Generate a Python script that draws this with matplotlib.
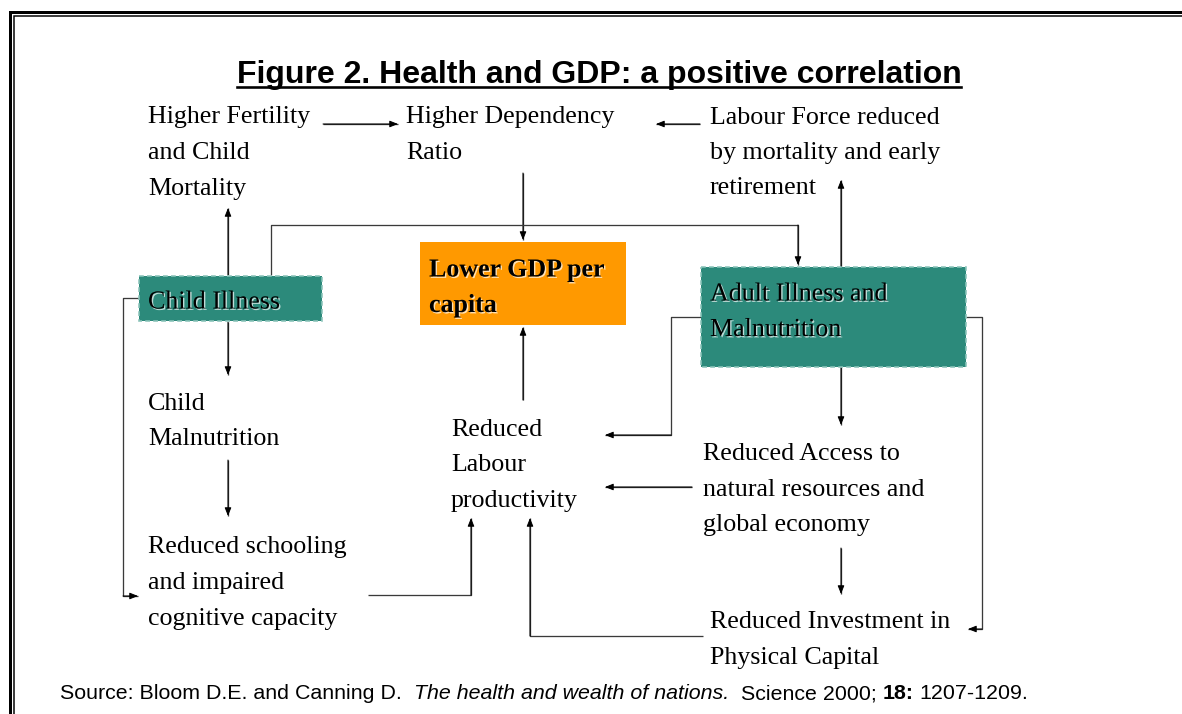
import matplotlib
matplotlib.use("Agg")
import matplotlib.pyplot as plt
import matplotlib.patheffects as pe
from matplotlib.patches import Rectangle

SERIF = "Liberation Serif"
SANS = "Liberation Sans"
FS = 18.7
LINE_H = 35.5

TITLE = "Figure 2. Health and GDP: a positive correlation"

# plain text nodes: (lines, left x, first line centre y)
nodes = [
    (["Higher Fertility", "and Child", "Mortality"], 148, 115),
    (["Higher Dependency", "Ratio"], 406, 115),
    (["Labour Force reduced", "by mortality and early", "retirement"], 710, 115),
    (["Child", "Malnutrition"], 148, 401),
    (["Reduced", "Labour", "productivity"], 451, 427),
    (["Reduced Access to", "natural resources and", "global economy"], 703, 452),
    (["Reduced schooling", "and impaired", "cognitive capacity"], 148, 545),
    (["Reduced Investment in", "Physical Capital"], 710, 620),
]

# boxed nodes: (lines, box x0, y0, x1, y1, face, bold)
boxes = [
    (["Child Illness"], 139, 276, 322, 321, "#2c8a7b", False),
    (["Lower GDP per", "capita"], 420, 242, 626, 325, "#ff9900", True),
    (["Adult Illness and", "Malnutrition"], 701, 267, 966, 367, "#2c8a7b", False),
]

# connectors: polyline, arrowhead at the last point
connectors = [
    [(323, 124), (398, 124)],
    [(700, 124), (656, 124)],
    [(523, 173), (523, 240)],
    [(228, 275), (228, 208)],
    [(271, 275), (271, 225), (798, 225), (798, 265)],
    [(841, 267), (841, 180)],
    [(228, 322), (228, 375)],
    [(139, 298), (123, 298), (123, 596), (138, 596)],
    [(228, 460), (228, 516)],
    [(368, 595), (471, 595), (471, 518)],
    [(523, 400), (523, 327)],
    [(701, 317), (671, 317), (671, 435), (605, 435)],
    [(841, 367), (841, 425)],
    [(692, 487), (605, 487)],
    [(841, 548), (841, 594)],
    [(966, 317), (982, 317), (982, 629), (968, 629)],
    [(703, 636), (530, 636), (530, 518)],
]

# source line pieces: (text, style, weight, gap after in em)
source = [
    ("Source: Bloom D.E. and Canning D.", "normal", "normal", 0.556),
    ("The health and wealth of nations.", "italic", "normal", 0.556),
    ("Science 2000;", "normal", "normal", 0.278),
    ("18:", "normal", "bold", 0.278),
    ("1207-1209.", "normal", "normal", 0),
]

fig = plt.figure(figsize=(11.82, 7.14), dpi=100)
ax = fig.add_axes([0, 0, 1, 1])
ax.set_xlim(0, 1182)
ax.set_ylim(714, 0)
ax.axis("off")
renderer = fig.canvas.get_renderer()
px = 0.72  # one pixel in points

# double border, clipped by the image on the right and bottom
ax.plot([10, 10, 1190], [722, 12, 12], color="black", lw=3 * px, solid_joinstyle="miter")
ax.plot([13.5, 13.5, 1190], [722, 15.5, 15.5], color="black", lw=1.5 * px, solid_joinstyle="miter")

# title with underline
t = ax.text(599, 83.5, TITLE, family=SANS, weight="bold", fontsize=23,
            ha="center", va="baseline")
bb = t.get_window_extent(renderer)
ax.plot([bb.x0, bb.x1], [86.5, 86.5], color="black", lw=2.6 * px)


def write_lines(lines, x, y, bold=False, shadow=False):
    for i, line in enumerate(lines):
        txt = ax.text(x, y + i * LINE_H + 8.5, line, family=SERIF, fontsize=FS,
                      weight="bold" if bold else "normal", ha="left", va="baseline",
                      color="black", zorder=5)
        if shadow:
            txt.set_path_effects([
                pe.withSimplePatchShadow(offset=(1, -1), shadow_rgbFace="white", alpha=0.7),
            ])


for lines, x, y in nodes:
    write_lines(lines, x, y)

# box text: first line centre measured from the box top
box_text_off = [24, 26, 25]
for (lines, x0, y0, x1, y1, face, bold), off in zip(boxes, box_text_off):
    dashed = face != "#ff9900"
    ax.add_patch(Rectangle((x0, y0), x1 - x0, y1 - y0, facecolor=face,
                           edgecolor="#8cc4ba" if dashed else "none",
                           lw=1.6 * px, ls=(0, (3, 2)) if dashed else "-", zorder=3))
    write_lines(lines, x0 + 9, y0 + off, bold=bold, shadow=True)

for pts in connectors:
    xs = [p[0] for p in pts]
    ys = [p[1] for p in pts]
    ax.plot(xs, ys, color="#3a3a3a", lw=1.3 * px, solid_capstyle="butt", zorder=2)
    ax.annotate("", xy=pts[-1], xytext=pts[-2],
                arrowprops=dict(arrowstyle="-|>,head_length=0.55,head_width=0.22",
                                color="black", lw=1.0 * px, shrinkA=0, shrinkB=0,
                                mutation_scale=9), zorder=2)

# source line
sx = 60
src_fs = 15.4
em = src_fs / 0.72
for text, style, weight, gap in source:
    st = ax.text(sx, 699, text, family=SANS, fontsize=src_fs, style=style,
                 weight=weight, ha="left", va="baseline")
    sx += st.get_window_extent(renderer).width + gap * em

fig.savefig("out.png", dpi=100)
